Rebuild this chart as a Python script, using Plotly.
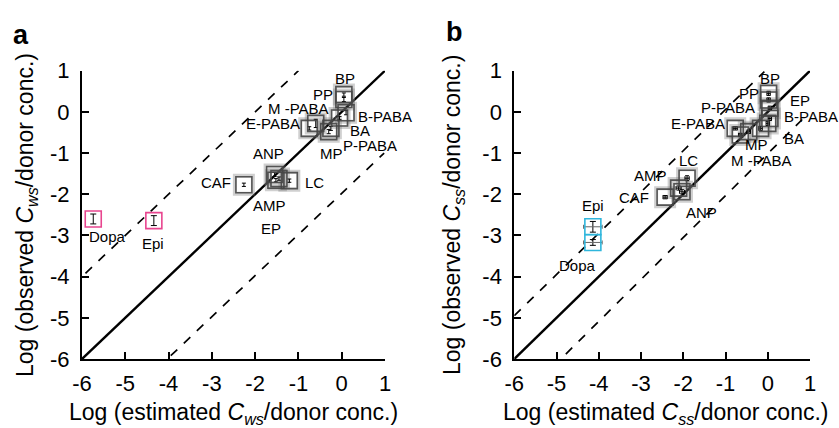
import plotly.graph_objects as go

# ---------------- data: panel a ----------------
a_names = ["Dopa", "Epi", "CAF", "ANP", "AMP", "EP", "LC", "E-PABA", "M-PABA",
           "BA", "MP", "P-PABA", "B-PABA", "PP", "BP"]
a_x = [-5.74, -4.34, -2.26, -1.55, -1.52, -1.45, -1.21, -0.75, -0.60,
       -0.30, -0.25, -0.05, 0.10, 0.05, 0.05]
a_y = [-2.60, -2.64, -1.77, -1.52, -1.66, -1.62, -1.67, -0.40, -0.28,
       -0.48, -0.40, -0.15, -0.02, 0.30, 0.42]
a_ey = [0.12, 0.12, 0.04, 0.05, 0.04, 0.04, 0.04, 0.04, 0.10,
        0.05, 0.05, 0.04, 0.05, 0.05, 0.04]
a_special = ["Dopa", "Epi"]

a_lbl = ["BP", "PP", "M -PABA", "E-PABA", "B-PABA", "BA", "P-PABA", "MP",
         "ANP", "CAF", "LC", "AMP", "EP", "Dopa", "Epi"]
a_lx = [0.07, -0.44, -1.00, -1.58, 1.00, 0.42, 0.65, -0.23,
        -1.70, -2.91, -0.62, -1.67, -1.64, -5.42, -4.37]
a_ly = [0.82, 0.43, 0.09, -0.29, -0.12, -0.46, -0.82, -1.00,
        -1.02, -1.72, -1.72, -2.28, -2.83, -3.03, -3.19]

# ---------------- data: panel b ----------------
b_names = ["Dopa", "Epi", "CAF", "AMP", "ANP", "LC", "E-PABA", "MP", "M-PABA",
           "P-PABA", "BA", "B-PABA", "EP", "PP", "BP"]
b_x = [-4.14, -4.14, -2.43, -2.11, -2.03, -1.91, -0.77, -0.65, -0.45,
       -0.17, 0.00, 0.05, 0.05, 0.02, 0.02]
b_y = [-3.17, -2.79, -2.07, -1.85, -1.94, -1.61, -0.40, -0.56, -0.48,
       -0.40, -0.28, -0.16, 0.09, 0.29, 0.45]
b_ey = [0.07, 0.13, 0.04, 0.05, 0.05, 0.06, 0.04, 0.04, 0.04,
        0.05, 0.05, 0.05, 0.05, 0.05, 0.05]
b_ex = [0.22, 0.22, 0.05, 0.06, 0.06, 0.05, 0.05, 0.04, 0.04,
        0.04, 0.04, 0.04, 0.04, 0.04, 0.04]
b_special = ["Dopa", "Epi"]

b_lbl = ["BP", "PP", "P-PABA", "EP", "B-PABA", "E-PABA", "BA", "MP",
         "M -PABA", "LC", "AMP", "CAF", "ANP", "Epi", "Dopa"]
b_lx = [0.06, -0.45, -0.93, 0.77, 1.00, -1.64, 0.61, -0.26,
        -0.14, -1.88, -2.78, -3.16, -1.58, -4.14, -4.51]
b_ly = [0.82, 0.45, 0.11, 0.27, -0.11, -0.29, -0.64, -0.80,
        -1.19, -1.19, -1.55, -2.08, -2.44, -2.28, -3.72]

ticks = [-6, -5, -4, -3, -2, -1, 0, 1]

# reference lines (x-range and offset)
a_ref_solid = ([-6, 1], [-6, 1])
a_ref_up = ([-5.92, -1.0], [-3.92, 1.0])
a_ref_lo = ([-3.95, 0.98], [-5.92, -1.0])
b_ref_solid = ([-6, 1], [-6, 1])
b_ref_up = ([-6, -0.08], [-4.95, 0.98])
b_ref_lo = ([-4.78, 0.85], [-5.88, -0.15])

fig = go.Figure()

FONT = "Liberation Sans, Arial, Helvetica, sans-serif"


def add_panel(xs, ys, ey, ex, names, special, scolor, xa, ya, refs):
    for (rx, ry), dash, w in zip(refs, ["solid", "dash", "dash"], [2.4, 1.7, 1.7]):
        fig.add_trace(go.Scatter(x=rx, y=ry, mode="lines", xaxis=xa, yaxis=ya,
                                 line=dict(color="black", width=w, dash=dash),
                                 showlegend=False, hoverinfo="skip"))
    norm = [i for i, n in enumerate(names) if n not in special]
    spec = [i for i, n in enumerate(names) if n in special]
    # soft shadow
    fig.add_trace(go.Scatter(x=[xs[i] for i in norm], y=[ys[i] for i in norm],
                             mode="markers", xaxis=xa, yaxis=ya, showlegend=False,
                             marker=dict(symbol="square-open", size=18,
                                         color="rgba(120,120,120,0.35)",
                                         line=dict(width=4, color="rgba(120,120,120,0.35)")),
                             hoverinfo="skip"))
    fig.add_trace(go.Scatter(x=[xs[i] for i in norm], y=[ys[i] for i in norm],
                             mode="markers", xaxis=xa, yaxis=ya, showlegend=False,
                             marker=dict(symbol="square-open", size=16,
                                         color="rgba(70,70,70,0.9)",
                                         line=dict(width=1.6, color="rgba(70,70,70,0.9)")),
                             error_y=dict(type="data", array=[ey[i] for i in norm],
                                          color="black", thickness=1, width=2),
                             error_x=None if ex is None else dict(
                                 type="data", array=[ex[i] for i in norm],
                                 color="black", thickness=1, width=2),
                             text=[names[i] for i in norm]))
    fig.add_trace(go.Scatter(x=[xs[i] for i in spec], y=[ys[i] for i in spec],
                             mode="markers", xaxis=xa, yaxis=ya, showlegend=False,
                             marker=dict(symbol="square-open", size=16, color=scolor,
                                         line=dict(width=1.6, color=scolor)),
                             error_y=dict(type="data", array=[ey[i] for i in spec],
                                          color="black", thickness=1, width=3),
                             error_x=None if ex is None else dict(
                                 type="data", array=[ex[i] for i in spec],
                                 color="#666666", thickness=1, width=2),
                             text=[names[i] for i in spec]))


add_panel(a_x, a_y, a_ey, None, a_names, a_special, "#e8458f", "x", "y",
          [a_ref_solid, a_ref_up, a_ref_lo])
add_panel(b_x, b_y, b_ey, b_ex, b_names, b_special, "#2fb6dc", "x2", "y2",
          [b_ref_solid, b_ref_up, b_ref_lo])

ann = []
for t, x, y in zip(a_lbl, a_lx, a_ly):
    ann.append(dict(text=t, x=x, y=y, xref="x", yref="y", showarrow=False,
                    font=dict(size=15, color="black", family=FONT)))
for t, x, y in zip(b_lbl, b_lx, b_ly):
    ann.append(dict(text=t, x=x, y=y, xref="x2", yref="y2", showarrow=False,
                    xshift=1 if t == "B-PABA" else 0,
                    font=dict(size=15, color="black", family=FONT)))

W, H = 839, 428
def px(xp):
    return xp / W
def py(yp):
    return 1 - yp / H

def paper_text(text, x, y, size, angle=0):
    return dict(text=text, x=px(x), y=py(y), xref="paper", yref="paper",
                xanchor="center", yanchor="middle", showarrow=False, textangle=angle,
                font=dict(size=size, color="black", family=FONT))

# panel letters
ann.append(paper_text("<b>a</b>", 21, 35, 27))
ann.append(paper_text("<b>b</b>", 454, 32, 27))
# axis titles
ann.append(paper_text("Log (estimated <i>C<sub>ws</sub></i>/donor conc.)", 233, 413, 23))
ann.append(paper_text("Log (estimated <i>C<sub>ss</sub></i>/donor conc.)", 666, 413, 23))
ann.append(paper_text("Log (observed <i>C<sub>ws</sub></i>/donor conc.)", 26, 215, 23, -90))
ann.append(paper_text("Log (observed <i>C<sub>ss</sub></i>/donor conc.)", 453, 215, 23, -90))

axis_common = dict(range=[-6, 1], tickvals=ticks, ticktext=[str(t) for t in ticks],
                   showgrid=False, zeroline=False, showline=True, linecolor="black",
                   linewidth=2, ticks="inside", ticklen=7, tickwidth=2, automargin=False,
                   tickcolor="black", tickfont=dict(size=22, color="black", family=FONT))

fig.update_layout(
    width=W, height=H, margin=dict(l=0, r=0, t=0, b=0, autoexpand=False),
    template="none",
    paper_bgcolor="white", plot_bgcolor="white", showlegend=False,
    xaxis=dict(domain=[px(82), px(385)], anchor="y", ticklabelstandoff=4, **axis_common),
    yaxis=dict(domain=[py(359), py(70.7)], anchor="x", ticklabelstandoff=6, **axis_common),
    xaxis2=dict(domain=[px(514.3), px(810)], anchor="y2", ticklabelstandoff=4, **axis_common),
    yaxis2=dict(domain=[py(359), py(70.7)], anchor="x2", ticklabelstandoff=6, **axis_common),
    annotations=ann,
)
fig.write_html("out.html")
